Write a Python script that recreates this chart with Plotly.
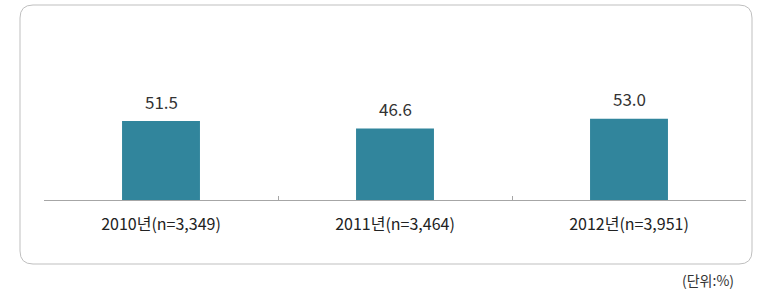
import plotly.graph_objects as go

categories = ["2010년(n=3,349)", "2011년(n=3,464)", "2012년(n=3,951)"]
values = [51.5, 46.6, 53.0]
value_labels = ["51.5", "46.6", "53.0"]
unit_label = "(단위:%)"

W, H = 757, 290
L, R, T, B = 44, 11, 20, 90
PW, PH = W - L - R, H - T - B

FONT = "Noto Sans CJK KR, Noto Sans, sans-serif"

fig = go.Figure(go.Bar(
    x=categories, y=values,
    marker=dict(color="#31859C", line=dict(width=0)),
    cliponaxis=False,
))

for c, v, t in zip(categories, values, value_labels):
    fig.add_annotation(x=c, y=v, text=t, showarrow=False,
                       xanchor="center", yanchor="middle", yshift=20,
                       font=dict(size=17, color="#333333", family=FONT))

def px2paper_x(px):
    return (px - L) / PW

def px2paper_y(py):
    return (H - B - py) / PH

# rounded rectangle box
x0, x1, y0, y1, r = 20, 752, 5, 264, 13
X0, X1 = px2paper_x(x0), px2paper_x(x1)
Y0, Y1 = px2paper_y(y0), px2paper_y(y1)
rx = r / PW
ry = r / PH
path = (f"M {X0+rx},{Y0} L {X1-rx},{Y0} Q {X1},{Y0} {X1},{Y0-ry} "
        f"L {X1},{Y1+ry} Q {X1},{Y1} {X1-rx},{Y1} "
        f"L {X0+rx},{Y1} Q {X0},{Y1} {X0},{Y1+ry} "
        f"L {X0},{Y0-ry} Q {X0},{Y0} {X0+rx},{Y0} Z")
fig.add_shape(type="path", path=path, xref="paper", yref="paper",
              line=dict(color="#BFBFBF", width=1), layer="below")

fig.add_annotation(text=unit_label, xref="paper", yref="paper",
                   x=px2paper_x(736), y=px2paper_y(280),
                   xanchor="right", yanchor="middle", showarrow=False,
                   font=dict(size=14, color="#333333", family=FONT))

fig.update_layout(
    width=W, height=H,
    margin=dict(l=L, r=R, t=T, b=B),
    paper_bgcolor="white", plot_bgcolor="white",
    bargap=0.667,
    showlegend=False,
    xaxis=dict(showline=True, linecolor="#A6A6A6", linewidth=1,
               ticks="inside", tickson="boundaries", ticklen=4,
               tickcolor="#A6A6A6", showgrid=False, zeroline=False,
               tickfont=dict(size=16, color="#222222", family=FONT),
               ticklabelstandoff=10),
    yaxis=dict(range=[0, PH / 1.534], visible=False, showgrid=False,
               zeroline=False),
)

fig.write_html("out.html", config={"displayModeBar": False},
               post_script="document.body.style.margin='0px';")
